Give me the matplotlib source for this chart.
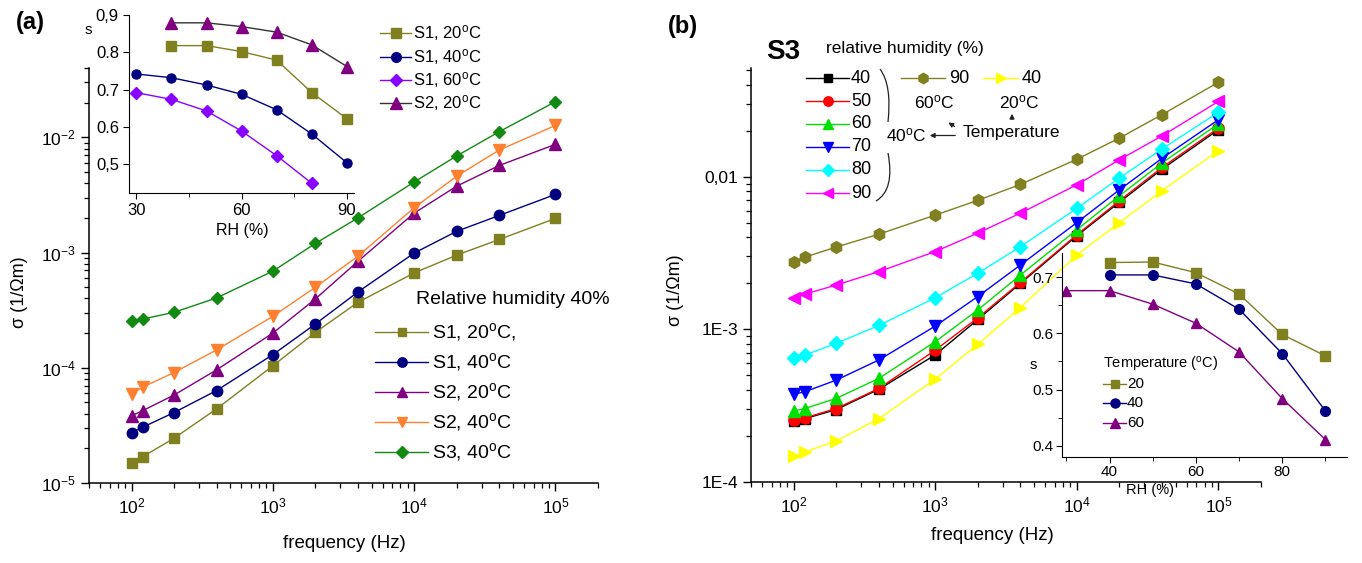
import matplotlib
matplotlib.use('Agg')
import matplotlib.pyplot as plt
from matplotlib.lines import Line2D
from matplotlib.patches import FancyArrowPatch, PathPatch
from matplotlib.path import Path
from matplotlib.ticker import (FixedLocator, FixedFormatter, LogLocator,
                               NullFormatter)

plt.rcParams['font.family'] = ['Liberation Sans', 'DejaVu Sans']
plt.rcParams['mathtext.default'] = 'regular'

W, H = 1362, 563

# ---------------- data ----------------
freq = [100, 120, 200, 400, 1000, 2000, 4000, 10000, 20000, 40000, 100000]

# panel (a), relative humidity 40 %
a_s1_20 = [1.48e-5, 1.69e-5, 2.45e-5, 4.4e-5, 1.04e-4, 2.03e-4, 3.7e-4, 6.66e-4, 9.5e-4, 1.3e-3, 1.98e-3]
a_s1_40 = [2.74e-5, 3.05e-5, 4.09e-5, 6.35e-5, 1.30e-4, 2.4e-4, 4.55e-4, 9.9e-4, 1.53e-3, 2.1e-3, 3.2e-3]
a_s2_20 = [3.83e-5, 4.25e-5, 5.8e-5, 9.6e-5, 2.0e-4, 3.96e-4, 8.4e-4, 2.2e-3, 3.77e-3, 5.7e-3, 8.7e-3]
a_s2_40 = [5.94e-5, 6.8e-5, 9.1e-5, 1.43e-4, 2.8e-4, 5.0e-4, 9.3e-4, 2.45e-3, 4.6e-3, 7.76e-3, 1.27e-2]
a_s3_40 = [2.53e-4, 2.65e-4, 3.03e-4, 4.04e-4, 6.9e-4, 1.2e-3, 2.0e-3, 4.1e-3, 6.9e-3, 1.12e-2, 2.04e-2]

# panel (a) inset: exponent s vs RH
rh_a_full = [30, 40, 50, 60, 70, 80, 90]
rh_a_from40 = [40, 50, 60, 70, 80, 90]
rh_a_to80 = [30, 40, 50, 60, 70, 80]
ia_s1_20 = [0.818, 0.818, 0.802, 0.779, 0.692, 0.622]
ia_s1_40 = [0.742, 0.732, 0.7125, 0.6875, 0.646, 0.581, 0.504]
ia_s1_60 = [0.692, 0.674, 0.643, 0.589, 0.523, 0.449]
ia_s2_20 = [0.879, 0.879, 0.869, 0.854, 0.820, 0.762]

# panel (b), sample S3
b_40 = [2.5e-4, 2.6e-4, 2.98e-4, 4.05e-4, 6.8e-4, 1.16e-3, 2.0e-3, 4.1e-3, 6.8e-3, 1.12e-2, 2.03e-2]
b_50 = [2.54e-4, 2.63e-4, 3.03e-4, 4.1e-4, 7.3e-4, 1.19e-3, 2.03e-3, 4.16e-3, 6.95e-3, 1.15e-2, 2.08e-2]
b_60 = [2.91e-4, 3.03e-4, 3.53e-4, 4.77e-4, 8.3e-4, 1.34e-3, 2.27e-3, 4.49e-3, 7.5e-3, 1.23e-2, 2.22e-2]
b_70 = [3.76e-4, 3.9e-4, 4.65e-4, 6.3e-4, 1.05e-3, 1.64e-3, 2.64e-3, 5.0e-3, 8.2e-3, 1.32e-2, 2.36e-2]
b_80 = [6.45e-4, 6.78e-4, 8.1e-4, 1.06e-3, 1.61e-3, 2.33e-3, 3.48e-3, 6.2e-3, 9.8e-3, 1.52e-2, 2.64e-2]
b_90 = [1.6e-3, 1.7e-3, 1.95e-3, 2.39e-3, 3.23e-3, 4.27e-3, 5.77e-3, 8.85e-3, 1.29e-2, 1.85e-2, 3.11e-2]
b_60C_90 = [2.78e-3, 2.97e-3, 3.46e-3, 4.2e-3, 5.6e-3, 7.0e-3, 8.9e-3, 1.30e-2, 1.79e-2, 2.55e-2, 4.15e-2]
b_20C_40 = [1.47e-4, 1.57e-4, 1.86e-4, 2.6e-4, 4.72e-4, 7.98e-4, 1.39e-3, 3.07e-3, 5.0e-3, 8.1e-3, 1.48e-2]

# panel (b) inset
rh_b_from40 = [40, 50, 60, 70, 80, 90]
rh_b_full = [30, 40, 50, 60, 70, 80, 90]
ib_t20 = [0.726, 0.727, 0.708, 0.670, 0.598, 0.560]
ib_t40 = [0.704, 0.704, 0.688, 0.643, 0.564, 0.462]
ib_t60 = [0.676, 0.676, 0.652, 0.618, 0.567, 0.484, 0.411]

# ---------------- colours ----------------
OLIVE = '#808020'
NAVY = '#000080'
PURPLE = '#800080'
ORANGE = '#FF8030'
GREEN = '#128a12'
VIOLET = '#8800FF'

fig = plt.figure(figsize=(W / 100, H / 100), dpi=100)


def rect(x0, y0, x1, y1):
    return [x0 / W, 1 - y1 / H, (x1 - x0) / W, (y1 - y0) / H]


def P(x, y):
    return (x / W, 1 - y / H)


def ftext(x, y, s, size, ha='left', va='center', **kw):
    fig.text(x / W, 1 - y / H, s, fontsize=size, ha=ha, va=va, **kw)


def leg(x0, x1, y, color, marker, ms, label, tx, size, lc=None, mfc=None):
    lc = lc or color
    fig.add_artist(Line2D([x0 / W, x1 / W], [1 - y / H] * 2, color=lc, lw=1.0,
                          transform=fig.transFigure))
    xm = (x0 + x1) / 2
    fig.add_artist(Line2D([xm / W], [1 - y / H], marker=marker, ms=ms,
                          color=mfc or color, mec=mfc or color, ls='none',
                          transform=fig.transFigure))
    ftext(tx, y, label, size)


def style_main(ax):
    for s in ['top', 'right']:
        ax.spines[s].set_visible(False)
    for s in ['left', 'bottom']:
        ax.spines[s].set_linewidth(1.1)
    ax.set_xscale('log')
    ax.set_yscale('log')
    ax.set_xlim(50, 2e5)
    ax.tick_params(which='major', direction='out', length=6, width=1.0,
                   labelsize=12.5)
    ax.tick_params(which='minor', direction='out', length=3.5, width=0.9)
    ax.xaxis.set_minor_locator(LogLocator(base=10, subs=range(2, 10), numticks=20))
    ax.yaxis.set_minor_locator(LogLocator(base=10, subs=range(2, 10), numticks=20))
    ax.xaxis.set_minor_formatter(NullFormatter())
    ax.yaxis.set_minor_formatter(NullFormatter())
    ax.set_facecolor('none')


deg = r'$^{o}$C'

# ================= panel (a) =================
axa = fig.add_axes(rect(89, 68, 598, 483))
style_main(axa)
axa.set_ylim(1e-5, 4e-2)
axa.xaxis.set_major_locator(FixedLocator([1e2, 1e3, 1e4, 1e5]))
axa.xaxis.set_major_formatter(FixedFormatter([r'10$^{2}$', r'10$^{3}$', r'10$^{4}$', r'10$^{5}$']))
axa.yaxis.set_major_locator(FixedLocator([1e-5, 1e-4, 1e-3, 1e-2]))
axa.yaxis.set_major_formatter(FixedFormatter([r'10$^{-5}$', r'10$^{-4}$', r'10$^{-3}$', r'10$^{-2}$']))

series_a = [
    (a_s1_20, OLIVE, 's', 6.5, 'S1, 20' + deg + ','),
    (a_s1_40, NAVY, 'o', 7.5, 'S1, 40' + deg),
    (a_s2_20, PURPLE, '^', 8, 'S2, 20' + deg),
    (a_s2_40, ORANGE, 'v', 8, 'S2, 40' + deg),
    (a_s3_40, GREEN, 'D', 6.5, 'S3, 40' + deg),
]
for vals, c, m, ms, lab in series_a:
    axa.plot(freq, vals, color=c, lw=1.0, marker=m, ms=ms, mec=c, mfc=c)

ftext(20, 292, r'σ (1/Ωm)', 13, ha='center', rotation=90)
ftext(344, 544, 'frequency (Hz)', 13.5, ha='center')
ftext(16, 22, '(a)', 17, fontweight='bold')

ftext(416, 299, 'Relative humidity 40%', 14)
for i, (vals, c, m, ms, lab) in enumerate(series_a):
    y = 331.7 + 30 * i
    leg(375, 428, y, c, m, ms * 0.9, lab, 432, 14)

# inset (a)
ia = fig.add_axes(rect(129.3, 15, 354, 192.7))
ia.set_facecolor('none')
for s in ['top', 'right']:
    ia.spines[s].set_visible(False)
ia.set_xlim(28, 92)
ia.set_ylim(0.424, 0.9)
ia.xaxis.set_major_locator(FixedLocator([30, 60, 90]))
ia.xaxis.set_minor_locator(FixedLocator([45, 75]))
ia.yaxis.set_major_locator(FixedLocator([0.5, 0.6, 0.7, 0.8, 0.9]))
ia.yaxis.set_major_formatter(FixedFormatter(['0,5', '0.6', '0.7', '0.8', '0,9']))
ia.tick_params(which='major', direction='out', length=4, labelsize=12)
ia.tick_params(which='minor', direction='out', length=3)

ia.plot(rh_a_from40, ia_s1_20, color=OLIVE, lw=1.0, marker='s', ms=6.5, mfc=OLIVE, mec=OLIVE)
ia.plot(rh_a_full, ia_s1_40, color=NAVY, lw=1.0, marker='o', ms=6.5, mfc=NAVY, mec=NAVY)
ia.plot(rh_a_to80, ia_s1_60, color=VIOLET, lw=1.0, marker='D', ms=6.5, mfc=VIOLET, mec=VIOLET)
ia.plot(rh_a_from40, ia_s2_20, color='#333333', lw=1.0, marker='^', ms=8, mfc=PURPLE, mec=PURPLE)

ftext(88, 30, 's', 11, ha='center')
ftext(242, 230, 'RH (%)', 11.5, ha='center')
leg(380, 411, 33, OLIVE, 's', 6.5, 'S1, 20' + deg, 413, 12)
leg(380, 411, 57, NAVY, 'o', 7, 'S1, 40' + deg, 413, 12)
leg(380, 411, 80, VIOLET, 'D', 6.5, 'S1, 60' + deg, 413, 12)
leg(380, 411, 103, PURPLE, '^', 8, 'S2, 20' + deg, 413, 12, lc='#333333')

# ================= panel (b) =================
axb = fig.add_axes(rect(751, 68, 1261, 482))
style_main(axb)
axb.set_ylim(1e-4, 5.15e-2)
axb.xaxis.set_major_locator(FixedLocator([1e2, 1e3, 1e4, 1e5]))
axb.xaxis.set_major_formatter(FixedFormatter([r'10$^{2}$', r'10$^{3}$', r'10$^{4}$', r'10$^{5}$']))
axb.yaxis.set_major_locator(FixedLocator([1e-4, 1e-3, 1e-2]))
axb.yaxis.set_major_formatter(FixedFormatter(['1E-4', '1E-3', '0,01']))

series_b = [
    (b_40, '#000000', 's', 7.5, '40'),
    (b_50, '#FF0000', 'o', 8, '50'),
    (b_60, '#00E000', '^', 8.5, '60'),
    (b_70, '#0000FF', 'v', 8.5, '70'),
    (b_80, '#00FFFF', 'D', 7.5, '80'),
    (b_90, '#FF00FF', '<', 8.5, '90'),
]
for vals, c, m, ms, lab in series_b:
    axb.plot(freq, vals, color=c, lw=1.0, marker=m, ms=ms, mec=c, mfc=c)
axb.plot(freq, b_60C_90, color=OLIVE, lw=1.0, marker='h', ms=8.5, mec=OLIVE, mfc=OLIVE)
axb.plot(freq, b_20C_40, color='#FFFF00', lw=1.0, marker='>', ms=8.5, mec='#FFFF00', mfc='#FFFF00')

ftext(675, 290, r'σ (1/Ωm)', 13, ha='center', rotation=90)
ftext(992, 535, 'frequency (Hz)', 13.5, ha='center')
ftext(668, 27, '(b)', 17, fontweight='bold')
ftext(766, 52, 'S3', 20, fontweight='bold')
ftext(826, 48, 'relative humidity (%)', 12.5)

rows_y = [78.3, 101, 124, 146.7, 170, 193.3]
for (vals, c, m, ms, lab), y in zip(series_b, rows_y):
    leg(806, 849, y, c, m, ms * 0.85, lab, 851, 13)
leg(901, 945, 78.3, OLIVE, 'h', 7.5, '90', 949, 13)
leg(983, 1018, 78.3, '#FFFF00', '>', 7.5, '40', 1022, 13)
ftext(934, 102, '60' + deg, 12.5, ha='center')
ftext(1019, 102, '20' + deg, 12.5, ha='center')
ftext(963, 132, 'Temperature', 12.5)
ftext(886, 135, '40' + deg, 12.5)

# brace
verts_up = [P(880, 69), P(892, 85), P(888, 122)]
verts_lo = [P(888, 153), P(895, 190), P(876, 201)]
for v in (verts_up, verts_lo):
    fig.add_artist(PathPatch(Path(v, [Path.MOVETO, Path.CURVE3, Path.CURVE3]),
                             fc='none', ec='#222222', lw=0.9,
                             transform=fig.transFigure))

arrow_kw = dict(arrowstyle='-|>', mutation_scale=7, color='#222222', lw=0.9,
                transform=fig.transFigure)
fig.add_artist(FancyArrowPatch(P(958, 135.5), P(927, 135.5), **arrow_kw))
fig.add_artist(FancyArrowPatch(P(957, 128), P(946, 121), **arrow_kw))
fig.add_artist(FancyArrowPatch(P(1012, 122), P(1012, 111), **arrow_kw))

# inset (b)
ib = fig.add_axes(rect(1062, 253, 1347, 457))
ib.set_facecolor('none')
for s in ['top', 'right']:
    ib.spines[s].set_visible(False)
ib.set_xlim(29, 95)
ib.set_ylim(0.38, 0.743)
ib.xaxis.set_major_locator(FixedLocator([40, 60, 80]))
ib.xaxis.set_minor_locator(FixedLocator([30, 50, 70, 90]))
ib.yaxis.set_major_locator(FixedLocator([0.4, 0.5, 0.6, 0.7]))
ib.yaxis.set_minor_locator(FixedLocator([0.45, 0.55, 0.65]))
ib.yaxis.set_major_formatter(FixedFormatter(['0.4', '0.5', '0.6', '0.7']))
ib.tick_params(which='major', direction='out', length=4, labelsize=11, pad=2)
ib.tick_params(which='minor', direction='out', length=3)

ib.plot(rh_b_from40, ib_t20, color=OLIVE, lw=1.0, marker='s', ms=6.5, mfc=OLIVE, mec=OLIVE)
ib.plot(rh_b_from40, ib_t40, color=NAVY, lw=1.0, marker='o', ms=7, mfc=NAVY, mec=NAVY)
ib.plot(rh_b_full, ib_t60, color=PURPLE, lw=1.0, marker='^', ms=7.5, mfc=PURPLE, mec=PURPLE)

ftext(1033, 365, 's', 10.5, ha='center')
ftext(1150, 490, 'RH (%)', 10.5, ha='center')
ftext(1103, 365, 'Temperature (' + r'$^{o}$' + 'C)', 10.5)
leg(1103, 1126, 384, OLIVE, 's', 6, '20', 1127, 11)
leg(1103, 1126, 403.3, NAVY, 'o', 6.5, '40', 1127, 11)
leg(1103, 1126, 422.7, PURPLE, '^', 7, '60', 1127, 11)

fig.savefig('out.png', dpi=100)
